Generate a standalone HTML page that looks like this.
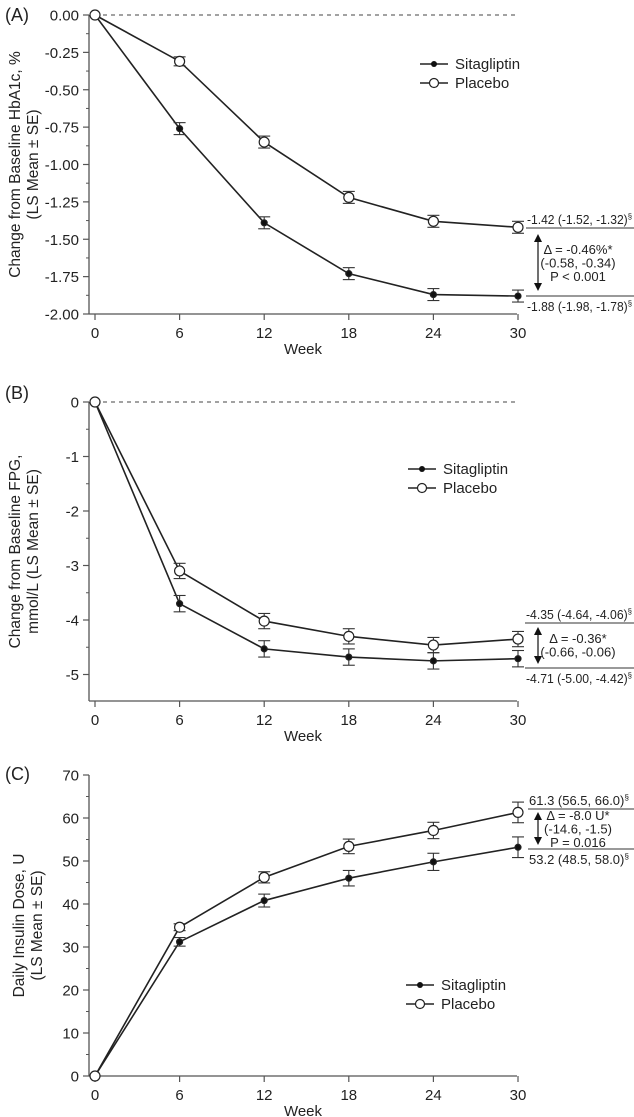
<!DOCTYPE html>
<html><head><meta charset="utf-8"><style>
body{margin:0;background:#fff}
svg{display:block;font-family:"Liberation Sans",sans-serif}
</style></head><body>
<svg id="fig" width="634" height="1117" viewBox="0 0 634 1117"></svg>
<script>
const weeks=[0,6,12,18,24,30];
const aSita=[0,-0.76,-1.39,-1.73,-1.87,-1.88];
const aSitaSE=[0,0.04,0.04,0.04,0.04,0.04];
const aPlac=[0,-0.31,-0.85,-1.22,-1.38,-1.42];
const aPlacSE=[0,0.03,0.04,0.04,0.04,0.04];
const aTicks=[0,-0.25,-0.5,-0.75,-1,-1.25,-1.5,-1.75,-2];
const aTickLabels=["0.00","-0.25","-0.50","-0.75","-1.00","-1.25","-1.50","-1.75","-2.00"];
const bSita=[0,-3.7,-4.53,-4.68,-4.75,-4.71];
const bSitaSE=[0,0.15,0.15,0.15,0.15,0.15];
const bPlac=[0,-3.1,-4.02,-4.3,-4.46,-4.35];
const bPlacSE=[0,0.14,0.14,0.14,0.14,0.14];
const bTicks=[0,-1,-2,-3,-4,-5];
const bTickLabels=["0","-1","-2","-3","-4","-5"];
const cSita=[0,31.2,40.8,46.0,49.8,53.2];
const cSitaSE=[0,1.0,1.5,1.8,2.0,2.4];
const cPlac=[0,34.6,46.2,53.4,57.1,61.3];
const cPlacSE=[0,0.8,1.3,1.7,1.9,2.4];
const cTicks=[0,10,20,30,40,50,60,70];
const cTickLabels=["0","10","20","30","40","50","60","70"];

const svg=document.getElementById('fig');
const NS='http://www.w3.org/2000/svg';
function mk(tag,attrs,name,parent){const e=document.createElementNS(NS,tag);for(const k in attrs)e.setAttribute(k,attrs[k]);


(parent||svg).appendChild(e);return e;}
function txt(x,y,s,name,anchor,size,parent,extra){const t=mk('text',Object.assign({x:x,y:y,'font-size':size||14,'text-anchor':anchor||'start',fill:'#222'},extra||{}),name,parent);t.textContent=s;return t;}
function txtSec(x,y,s,name,size,parent,len){const t=mk('text',{x:x,y:y,'font-size':size,'text-anchor':'start',fill:'#222',textLength:len,lengthAdjust:'spacingAndGlyphs'},name,parent);
  const a=mk('tspan',{},name+'-value',t);a.textContent=s;
  const b=mk('tspan',{'font-size':8,dy:-5},'section-mark',t);b.textContent='§';return t;}
const X=w=>95+w*14.1;

function panel(cfg){
  const g=mk('g',{},cfg.id);
  const Y=v=>cfg.y0+(v-cfg.v0)*cfg.k;
  txt(cfg.labX,cfg.labY,cfg.label,'panel-label','start',18,g);
  mk('line',{x1:89,y1:cfg.axTop,x2:89,y2:cfg.axBot,stroke:'#555','stroke-width':1.3},'y-axis',g);
  mk('line',{x1:89,y1:cfg.axBot,x2:517,y2:cfg.axBot,stroke:'#555','stroke-width':1.3},'x-axis',g);
  cfg.ticks.forEach((t,i)=>{const y=Y(t);
    mk('line',{x1:83,y1:y,x2:89,y2:y,stroke:'#555','stroke-width':1.2},'y-tick',g);
    txt(79,y+5.5,cfg.tickLabels[i],'y-tick-label','end',15,g);
    if(i<cfg.ticks.length-1){const ym=Y((t+cfg.ticks[i+1])/2);
      mk('line',{x1:86,y1:ym,x2:89,y2:ym,stroke:'#555','stroke-width':1},'y-minor-tick',g);}
  });
  weeks.forEach(w=>{mk('line',{x1:X(w),y1:cfg.axBot,x2:X(w),y2:cfg.axBot+6,stroke:'#555','stroke-width':1.2},'x-tick',g);
    txt(X(w),cfg.axBot+24,String(w),'x-tick-label','middle',15,g);});
  txt(303,cfg.axBot+40,'Week','x-axis-title','middle',15,g);
  const yt=mk('text',{transform:`translate(${cfg.ytX},${(cfg.axTop+cfg.axBot)/2}) rotate(-90)`,'text-anchor':'middle','font-size':15.5,fill:'#222'},'y-axis-title',g);
  cfg.ytitle.forEach((s,i)=>{const ts=mk('tspan',{x:0,dy:i?18:0},'y-axis-title-line',yt);ts.textContent=s;});
  if(cfg.dash) mk('line',{x1:95,y1:Y(0),x2:517,y2:Y(0),stroke:'#444','stroke-dasharray':'4,4','stroke-width':1},'zero-reference-line',g);
  function series(vals,se,filled,name){
    const pts=weeks.map((w,i)=>X(w)+','+Y(vals[i])).join(' ');
    mk('polyline',{points:pts,fill:'none',stroke:'#222','stroke-width':1.6},name+'-line',g);
    weeks.forEach((w,i)=>{const x=X(w);
      if(se[i]>0){const y1=Y(vals[i]+se[i]),y2=Y(vals[i]-se[i]);
        mk('line',{x1:x,y1:y1,x2:x,y2:y2,stroke:'#333','stroke-width':1.1},name+'-error-bar',g);
        mk('line',{x1:x-6,y1:y1,x2:x+6,y2:y1,stroke:'#333','stroke-width':1.1},name+'-error-cap',g);
        mk('line',{x1:x-6,y1:y2,x2:x+6,y2:y2,stroke:'#333','stroke-width':1.1},name+'-error-cap',g);}
      mk('circle',{cx:x,cy:Y(vals[i]),r:filled?3:5,fill:filled?'#111':'#fff',stroke:'#222','stroke-width':1.2},name+'-point',g);
    });
  }
  series(cfg.sita,cfg.sitaSE,true,'sitagliptin');
  series(cfg.plac,cfg.placSE,false,'placebo');
  const L=cfg.leg;
  mk('line',{x1:L[0],y1:L[1],x2:L[0]+28,y2:L[1],stroke:'#222','stroke-width':1.4},'legend-sitagliptin-line',g);
  mk('circle',{cx:L[0]+14,cy:L[1],r:3,fill:'#111'},'legend-sitagliptin-marker',g);
  txt(L[0]+35,L[1]+5,'Sitagliptin','legend-sitagliptin-label','start',15,g);
  mk('line',{x1:L[0],y1:L[1]+19,x2:L[0]+28,y2:L[1]+19,stroke:'#222','stroke-width':1.4},'legend-placebo-line',g);
  mk('circle',{cx:L[0]+14,cy:L[1]+19,r:4.5,fill:'#fff',stroke:'#222','stroke-width':1.2},'legend-placebo-marker',g);
  txt(L[0]+35,L[1]+24,'Placebo','legend-placebo-label','start',15,g);
  const A=cfg.ann;
  const len=634-A.lx-3;
  mk('line',{x1:A.lx,y1:A.l1,x2:634,y2:A.l1,stroke:'#333','stroke-width':1},'annotation-top-rule',g);
  mk('line',{x1:A.lx,y1:A.l2,x2:634,y2:A.l2,stroke:'#333','stroke-width':1},'annotation-bottom-rule',g);
  txtSec(A.lx+1,A.l1-4,A.top,'placebo-final-value',12.5,g,A.len||len);
  txtSec(A.lx+1,A.l2+15,A.bot,'sitagliptin-final-value',12.5,g,A.len||len);
  mk('line',{x1:538,y1:A.a1+6,x2:538,y2:A.a2-6,stroke:'#111','stroke-width':1.2},'difference-arrow',g);
  mk('polygon',{points:`538,${A.a1} 534,${A.a1+8} 542,${A.a1+8}`,fill:'#111'},'difference-arrow-head-up',g);
  mk('polygon',{points:`538,${A.a2} 534,${A.a2-8} 542,${A.a2-8}`,fill:'#111'},'difference-arrow-head-down',g);
  A.lines.forEach((s,i)=>txt(578,A.ty+i*13.5,s,'difference-text','middle',13,g));
}
panel({id:'panel-a',label:'(A)',labX:5,labY:21,v0:0,y0:15,k:-149.5,axTop:15,axBot:314,ticks:aTicks,tickLabels:aTickLabels,
 ytX:20,ytitle:['Change from Baseline HbA1c, %','(LS Mean ± SE)'],dash:true,sita:aSita,sitaSE:aSitaSE,plac:aPlac,placSE:aPlacSE,
 leg:[420,64],ann:{lx:526,l1:228,l2:296,top:'-1.42 (-1.52, -1.32)',bot:'-1.88 (-1.98, -1.78)',a1:234,a2:291,ty:254,lines:['Δ = -0.46%*','(-0.58, -0.34)','P < 0.001']}});
panel({id:'panel-b',label:'(B)',labX:5,labY:399,v0:0,y0:402,k:-54.5,axTop:402,axBot:701,ticks:bTicks,tickLabels:bTickLabels,
 ytX:20,ytitle:['Change from Baseline FPG,','mmol/L (LS Mean ± SE)'],dash:true,sita:bSita,sitaSE:bSitaSE,plac:bPlac,placSE:bPlacSE,
 leg:[408,469],ann:{lx:525,l1:623,l2:668,top:'-4.35 (-4.64, -4.06)',bot:'-4.71 (-5.00, -4.42)',a1:627,a2:664,ty:643,lines:['Δ = -0.36*','(-0.66, -0.06)']}});
panel({id:'panel-c',label:'(C)',labX:5,labY:780,v0:0,y0:1076,k:-4.3,axTop:775,axBot:1076,ticks:cTicks,tickLabels:cTickLabels,
 ytX:24,ytitle:['Daily Insulin Dose, U','(LS Mean ± SE)'],dash:false,sita:cSita,sitaSE:cSitaSE,plac:cPlac,placSE:cPlacSE,
 leg:[406,985],ann:{lx:528,l1:809,l2:849,top:'61.3 (56.5, 66.0)',bot:'53.2 (48.5, 58.0)',len:100,a1:812,a2:845,ty:820,lines:['Δ = -8.0 U*','(-14.6, -1.5)','P = 0.016']}});
</script>
</body></html>
